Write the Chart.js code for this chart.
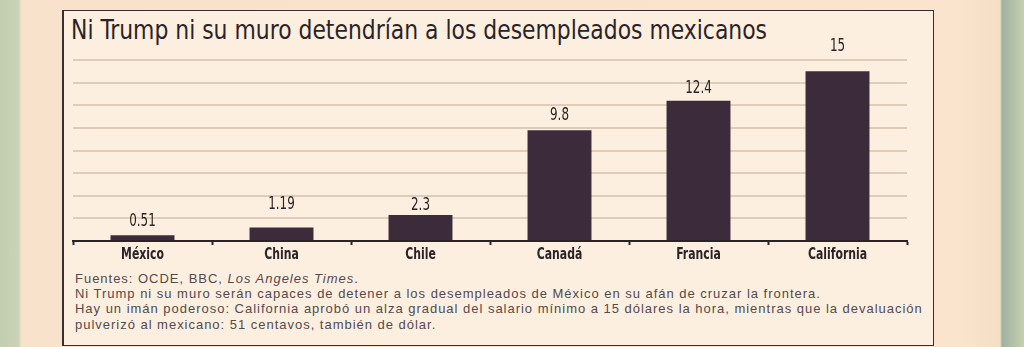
<!DOCTYPE html>
<html>
<head>
<meta charset="utf-8">
<script src="https://cdn.jsdelivr.net/npm/chart.js@4"></script>
<style>
    html, body { margin: 0; padding: 0; }
    body {
        width: 1024px; height: 347px; overflow: hidden; position: relative;
        background: linear-gradient(to right, #c3ceb0 0px, #c9d2b6 18px, #f8e2cb 22px, #fae4cd 960px, #f3dfc4 1000px, #9fb1a2 1002px, #c6d0b0 1024px);
    }
    #box {
        position: absolute; left: 62px; top: 10px; width: 869px; height: 334px;
        border: 1px solid #3a2e31; border-left-width: 2px; background: #fdefdf;
    }
    #title {
        position: absolute; left: 7px; top: 3px; white-space: nowrap;
        font-family: 'DejaVu Sans Condensed', 'DejaVu Sans', sans-serif;
        font-size: 27px; color: #2b2327; transform-origin: left top;
    }
    #chartWrap { position: absolute; left: 0; top: 20px; width: 869px; height: 236px; }
    #notes {
        position: absolute; left: 11px; top: 260px; white-space: nowrap;
        font-family: 'Liberation Sans', Arial, sans-serif; font-size: 13px;
        letter-spacing: 0.98px; line-height: 15.2px; color: #544a4c;
    }
</style>
</head>
<body>
<div id="box">
    <div id="title">Ni Trump ni su muro detendrían a los desempleados mexicanos</div>
    <div id="chartWrap"><canvas id="wageChart"></canvas></div>
    <div id="notes">
        Fuentes: OCDE, BBC, <i>Los Angeles Times</i>.<br>
        Ni Trump ni su muro serán capaces de detener a los desempleados de México en su afán de cruzar la frontera.<br>
        Hay un imán poderoso: California aprobó un alza gradual del salario mínimo a 15 dólares la hora, mientras que la devaluación<br>
        pulverizó al mexicano: 51 centavos, también de dólar.
    </div>
</div>
<script>
// datos
const places = ['México', 'China', 'Chile', 'Canadá', 'Francia', 'California'];
const wages = [0.51, 1.19, 2.3, 9.8, 12.4, 15];
const wageLabels = ['0.51', '1.19', '2.3', '9.8', '12.4', '15'];
// gap between each value label and its bar, as in the printed chart
const labelLift = [5, 14, 1, 6, 4, 16];

// fit the title width like the original
const title = document.getElementById('title');
const tw = title.getBoundingClientRect().width;
title.style.transform = 'scaleX(' + (696 / tw) + ')';

const narrow = "'DejaVu Sans Condensed', 'DejaVu Sans', sans-serif";

// squeezed text, the original uses a condensed face
function squeezed(c, text, x, y, sx) {
    c.save();
    c.translate(x, y);
    c.scale(sx, 1);
    c.fillText(text, 0, 0);
    c.restore();
}

const textLabels = {
    id: 'textLabels',
    afterDatasetsDraw(chart) {
        const c = chart.ctx;
        const meta = chart.getDatasetMeta(0);
        const xs = chart.scales.x;
        c.save();
        c.fillStyle = '#2b2327';
        c.textAlign = 'center';
        c.textBaseline = 'bottom';
        c.font = '17px ' + narrow;
        meta.data.forEach(function (bar, i) {
            squeezed(c, wageLabels[i], bar.x, bar.y - labelLift[i], 0.78);
        });
        c.textBaseline = 'middle';
        c.font = 'bold 15.5px ' + narrow;
        places.forEach(function (p, i) {
            squeezed(c, p, xs.getPixelForValue(i), xs.bottom - 12, 0.78);
        });
        c.restore();
    }
};

const ctx = document.getElementById('wageChart');

new Chart(ctx, {
    type: 'bar',
    data: {
        labels: places,
        datasets: [{
            data: wages,
            backgroundColor: '#3c2b3b',
            categoryPercentage: 1,
            barPercentage: 0.46
        }]
    },
    options: {
        responsive: true,
        maintainAspectRatio: false,
        animation: false,
        layout: { padding: { left: 9, right: 26, top: 29, bottom: 0 } },
        plugins: {
            legend: { display: false },
            tooltip: { enabled: false }
        },
        scales: {
            x: {
                grid: {
                    offset: true,
                    drawOnChartArea: false,
                    drawTicks: true,
                    tickLength: 4,
                    tickWidth: 2,
                    tickColor: '#2b2327'
                },
                border: { display: true, color: '#2b2327', width: 2 },
                ticks: {
                    color: 'rgba(0,0,0,0)',
                    font: { family: narrow, size: 15 },
                    padding: 2
                }
            },
            y: {
                min: 0,
                max: 16,
                ticks: { display: false, stepSize: 2 },
                grid: { color: '#decdb9', lineWidth: 2, drawTicks: false },
                border: { display: false }
            }
        }
    },
    plugins: [textLabels]
});
</script>
</body>
</html>
